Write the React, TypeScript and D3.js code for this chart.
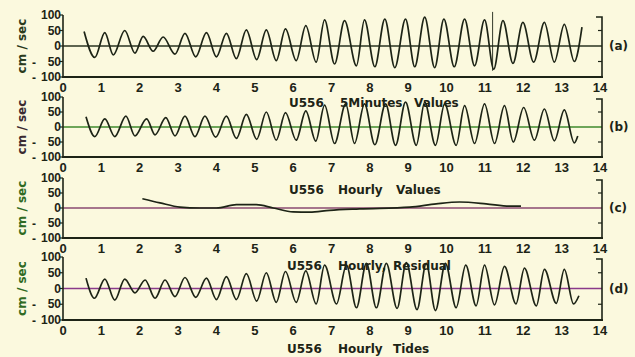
import React from "react";
import * as d3 from "d3";

// ---- data (extrema of each trace, days vs cm/sec) ----
const xTickLabels = [0, 1, 2, 3, 4, 5, 6, 7, 8, 9, 10, 11, 12, 13, 14];
const yTickValues = [100, 50, 0, -50, -100];
const panelTags = ["(a)", "(b)", "(c)", "(d)"];
const panelTitles = [
  ["U556", "5Minutes", "Values"],
  ["U556", "Hourly", "Values"],
  ["U556", "Hourly,", "Residual"],
  ["U556", "Hourly", "Tides"],
];

const tA = [0.55,0.83,1.09,1.31,1.61,1.875,2.09,2.35,2.61,2.92,3.18,3.46,3.74,4.0,4.26,4.52,4.78,5.05,5.3,5.56,5.8,6.08,6.33,6.6,6.82,7.08,7.34,7.65,7.86,8.13,8.39,8.65,8.93,9.17,9.43,9.69,9.93,10.2,10.47,10.73,10.99,11.23,11.47,11.73,11.99,12.27,12.55,12.81,13.07,13.33,13.53];
const vA = [47,-37,43,-29,50,-23,31,-17,29,-26,41,-35,43,-35,41,-41,52,-44,52,-47,55,-47,66,-52,84,-58,82,-64,84,-67,87,-70,87,-67,93,-70,87,-67,87,-64,84,-75,82,-56,76,-52,76,-52,70,-50,61];
const spikeA = { t: 11.2, hi: 110, lo: -80 };

const tB = [0.6,0.83,1.09,1.35,1.64,1.875,2.18,2.4,2.68,2.92,3.18,3.44,3.7,3.98,4.26,4.52,4.78,5.05,5.3,5.56,5.8,6.08,6.33,6.59,6.82,7.08,7.37,7.6,7.86,8.13,8.41,8.67,8.93,9.21,9.43,9.71,9.95,10.25,10.47,10.73,10.99,11.25,11.51,11.74,12.01,12.29,12.55,12.81,13.07,13.33,13.42];
const vB = [34,-32,27,-32,36,-30,27,-26,31,-30,36,-32,36,-34,36,-38,42,-41,50,-44,48,-44,54,-47,73,-55,77,-55,77,-59,77,-61,83,-61,83,-61,77,-61,71,-55,77,-55,71,-50,65,-44,60,-46,57,-53,-30];

const tC = [2.07,2.53,3.05,3.57,4.0,4.52,5.04,5.48,6.0,6.43,6.95,7.73,9.04,9.73,10.34,11.03,11.64,11.94];
const vC = [31,17,3,0,0,11,11,0,-13,-14,-8,-3,3,14,20,14,6,6];

const tD = [0.6,0.82,1.09,1.35,1.61,1.875,2.14,2.4,2.66,2.92,3.18,3.46,3.74,4.0,4.26,4.52,4.78,5.05,5.3,5.56,5.8,6.08,6.33,6.6,6.82,7.13,7.39,7.65,7.91,8.17,8.43,8.71,8.95,9.23,9.47,9.71,9.97,10.25,10.5,10.77,10.99,11.25,11.51,11.81,12.03,12.34,12.55,12.86,13.07,13.31,13.45];
const vD = [33,-31,30,-37,30,-14,27,-31,27,-26,35,-28,33,-35,38,-35,47,-40,50,-44,54,-44,56,-49,74,-49,74,-61,80,-61,80,-63,82,-67,80,-70,80,-61,74,-55,74,-52,70,-49,65,-55,61,-47,61,-49,-23];

const seriesT = [tA, tB, tC, tD];
const seriesV = [vA, vB, vC, vD];

// ---- layout ----
const W = 635, H = 357;
const X0 = 63, X1 = 600;
const panels = [
  { top: 15, bottom: 77, tickY: 92, titleY: 107, titleX: [289, 340, 414], zeroColor: "#2a3320", labColor: "#2a3a1c" },
  { top: 97, bottom: 157, tickY: 172, titleY: 194, titleX: [289, 338, 396], zeroColor: "#3f8a2c", labColor: "#3a2a30" },
  { top: 178, bottom: 238, tickY: 253, titleY: 270, titleX: [287, 338, 393], zeroColor: "#8a4a70", labColor: "#2f6a22" },
  { top: 257, bottom: 320, tickY: 335, titleY: 353, titleX: [287, 338, 393], zeroColor: "#8a3a8a", labColor: "#2f6a22" },
];
const INK = "#1d2416";
const FONT = "'Liberation Sans', Arial, sans-serif";
const TFONT = "'DejaVu Sans', sans-serif";

const x = d3.scaleLinear().domain([0, 14]).range([X0, X1]);

export default function App() {
  return (
    <svg width={W} height={H} style={{ position: "absolute", left: 0, top: 0 }} fontFamily={FONT}>
      <rect x={0} y={0} width={W} height={H} fill="#fbf9de" />
      {panels.map((p, i) => {
        const y = d3.scaleLinear().domain([-100, 100]).range([p.bottom, p.top]);
        const line = d3
          .line<number>()
          .x((_, k) => x(seriesT[i][k]))
          .y((v) => y(v))
          .curve(d3.curveMonotoneX);
        const mid = y(0);
        return (
          <g key={i}>
            {/* zero line */}
            <line x1={X0} x2={X1 + 2} y1={mid} y2={mid} stroke={p.zeroColor} strokeWidth={1.3} />
            {/* data */}
            <path d={line(seriesV[i]) || ""} fill="none" stroke={INK} strokeWidth={1.7} strokeLinejoin="round" />
            {i === 0 && (
              <line x1={x(spikeA.t)} x2={x(spikeA.t)} y1={y(spikeA.hi)} y2={y(spikeA.lo)} stroke={INK} strokeWidth={0.9} />
            )}
            {/* left axis */}
            <line x1={X0} x2={X0} y1={p.top} y2={p.bottom + 1} stroke={INK} strokeWidth={1.6} />
            {yTickValues.map((v) => (
              <g key={v}>
                <line x1={X0 - 3} x2={X0} y1={y(v)} y2={y(v)} stroke={INK} strokeWidth={1.2} />
                <text x={61} y={y(v) + 4} textAnchor="end" fontSize={12} fontWeight="bold" fill={INK}>
                  {Math.abs(v)}
                </text>
                {v < 0 && (
                  <text x={34} y={y(v) + 5} textAnchor="middle" fontSize={12} fontWeight="bold" fill={INK}>
                    -
                  </text>
                )}
              </g>
            ))}
            {/* right bracket */}
            <path
              d={`M${X1 - 4},${p.top + 2} H${X1 + 2} V${p.bottom}`}
              fill="none"
              stroke={INK}
              strokeWidth={1.6}
            />
            {[50, -50].map((v) => (
              <line key={v} x1={X1 - 2} x2={X1 + 2} y1={y(v)} y2={y(v)} stroke={INK} strokeWidth={1.2} />
            ))}
            {/* bottom axis */}
            <line x1={X0 - 1} x2={X1 + 3} y1={p.bottom} y2={p.bottom} stroke={INK} strokeWidth={2.2} />
            {xTickLabels.map((t) => (
              <text key={t} x={x(t)} y={p.tickY} textAnchor="middle" fontSize={13} fontWeight="bold" fill={INK}>
                {t}
              </text>
            ))}
            {/* y label */}
            <text
              transform={`translate(26,${mid}) rotate(-90)`}
              textAnchor="middle"
              fontSize={12}
              fontWeight="bold"
              fontFamily={TFONT}
              fill={p.labColor}
            >
              cm / sec
            </text>
            {/* panel tag */}
            <text x={609} y={mid + 4} fontSize={12} fontWeight="bold" fontFamily={TFONT} fill={INK}>
              {panelTags[i]}
            </text>
            {/* title */}
            {panelTitles[i].map((w, k) => (
              <text key={k} x={p.titleX[k]} y={p.titleY} fontSize={12} fontWeight="bold" fontFamily={TFONT} fill={INK}>
                {w}
              </text>
            ))}
          </g>
        );
      })}
    </svg>
  );
}
